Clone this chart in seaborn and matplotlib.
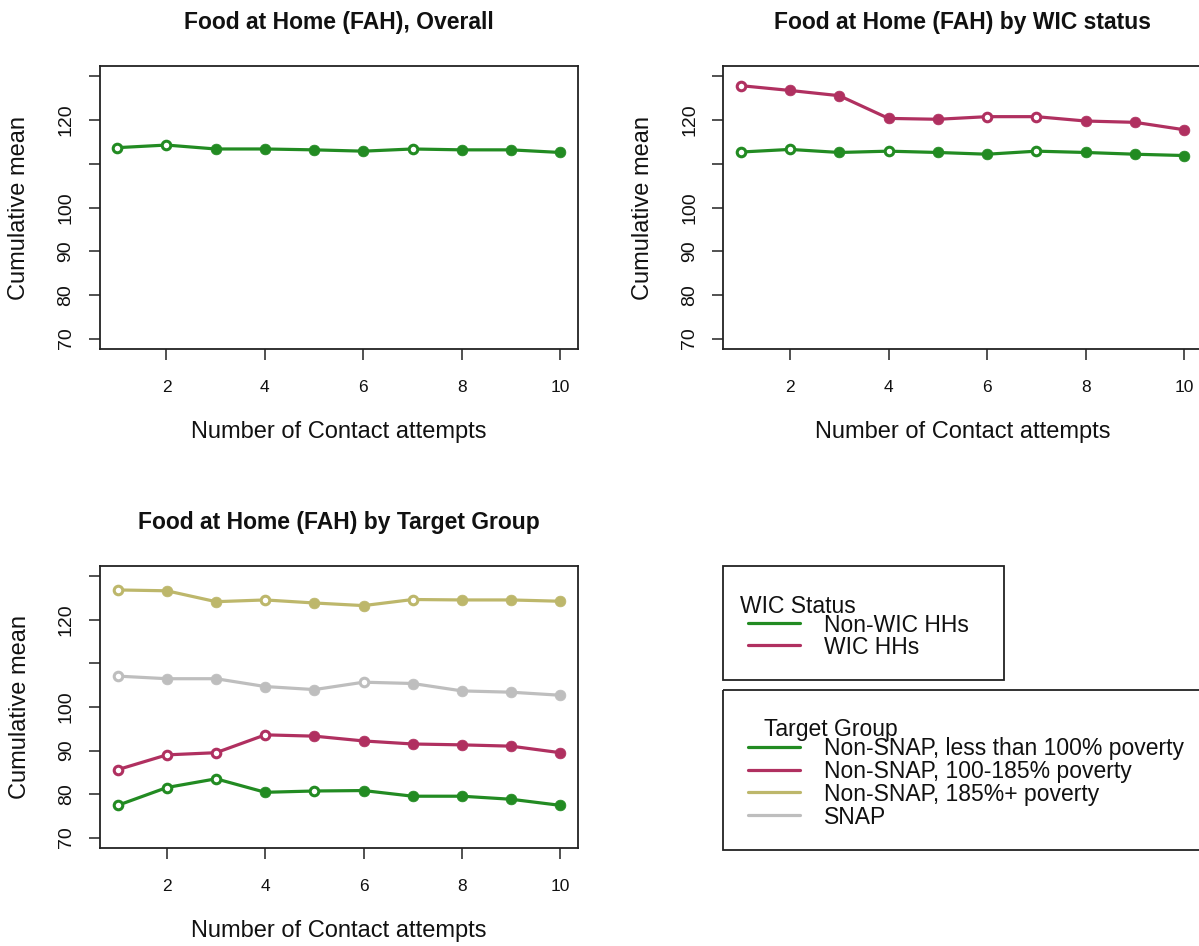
import numpy as np
import pandas as pd
import matplotlib
matplotlib.use("Agg")
import matplotlib.pyplot as plt
from matplotlib.patches import Rectangle
import seaborn as sns

sns.set_theme(style="white")
plt.rcParams['font.family'] = ['Liberation Sans', 'DejaVu Sans']

# ---------------- data ----------------
attempts = [1, 2, 3, 4, 5, 6, 7, 8, 9, 10]

overall = [113.7, 114.3, 113.4, 113.4, 113.2, 112.9, 113.4, 113.2, 113.2, 112.6]
overall_open = [1, 1, 0, 0, 0, 0, 1, 0, 0, 0]

wic_labels = ["Non-WIC HHs", "WIC HHs"]
wic_non = [112.7, 113.3, 112.6, 112.9, 112.6, 112.2, 112.9, 112.6, 112.2, 111.9]
wic_non_open = [1, 1, 0, 1, 0, 0, 1, 0, 0, 0]
wic_yes = [127.9, 126.8, 125.6, 120.4, 120.2, 120.8, 120.8, 119.8, 119.5, 117.8]
wic_yes_open = [1, 0, 0, 0, 0, 1, 1, 0, 0, 0]

tg_labels = ["Non-SNAP, less than 100% poverty", "Non-SNAP, 100-185% poverty",
             "Non-SNAP, 185%+ poverty", "SNAP"]
tg_lt100 = [77.4, 81.5, 83.5, 80.4, 80.7, 80.8, 79.5, 79.5, 78.8, 77.4]
tg_lt100_open = [1, 1, 1, 0, 1, 0, 0, 0, 0, 0]
tg_100_185 = [85.6, 89.0, 89.5, 93.6, 93.3, 92.2, 91.5, 91.3, 91.0, 89.5]
tg_100_185_open = [1, 1, 1, 1, 0, 0, 0, 0, 0, 0]
tg_185p = [126.9, 126.7, 124.2, 124.6, 123.9, 123.3, 124.7, 124.6, 124.6, 124.3]
tg_185p_open = [1, 0, 0, 1, 0, 0, 1, 0, 0, 0]
tg_snap = [107.1, 106.5, 106.5, 104.7, 104.0, 105.7, 105.4, 103.7, 103.4, 102.7]
tg_snap_open = [1, 0, 0, 0, 0, 1, 0, 0, 0, 0]

titles = ["Food at Home (FAH), Overall", "Food at Home (FAH) by WIC status",
          "Food at Home (FAH) by Target Group"]
xlabel = "Number of Contact attempts"
ylabel = "Cumulative mean"
yticks = [70, 80, 90, 100, 110, 120, 130]
yticklabels = ["70", "80", "90", "100", "", "120", ""]
xticks = [2, 4, 6, 8, 10]

GREEN = "#228B22"
MAROON = "#B03060"
KHAKI = "#BDB76B"
GREY = "#BEBEBE"

# ---------------- figure ----------------
W, H = 1199, 946
fig = plt.figure(figsize=(W / 100, H / 100), dpi=100)


def rect(l, r, t, b):
    return [l / W, 1 - b / H, (r - l) / W, (b - t) / H]


def draw_series(ax, y, opn, color):
    df = pd.DataFrame({"x": attempts, "y": y, "open": opn})
    sns.lineplot(data=df, x="x", y="y", ax=ax, color=color, linewidth=2.3)
    filled = df[df["open"] == 0]
    hollow = df[df["open"] == 1]
    sns.scatterplot(data=filled, x="x", y="y", ax=ax, color=color, s=60,
                    edgecolor=color, linewidth=0.5, zorder=3)
    sns.scatterplot(data=hollow, x="x", y="y", ax=ax, facecolor="white", s=38,
                    edgecolor=color, linewidth=2.2, zorder=3)


def style_axes(ax, title, title_x=0.5):
    ax.set_xlim(0.64, 10.36)
    ax.set_ylim(67.6, 132.4)
    ax.set_xticks(xticks)
    ax.set_xticklabels([str(v) for v in xticks], fontsize=12.5)
    ax.set_yticks(yticks)
    ax.set_yticklabels(yticklabels, fontsize=14, rotation=90, va="center")
    ax.tick_params(axis="both", direction="out", length=8, width=1.1,
                   color="#222222", labelcolor="#111111",
                   bottom=True, left=True, top=False, right=False)
    ax.tick_params(axis="x", pad=14)
    ax.tick_params(axis="y", pad=10)
    for sp in ax.spines.values():
        sp.set_visible(True)
        sp.set_color("#222222")
        sp.set_linewidth(1.3)
    ax.set_xlabel(xlabel, fontsize=17, color="#111111")
    ax.set_ylabel(ylabel, fontsize=17, color="#111111")
    ax.xaxis.set_label_coords(0.5, -0.295)
    ax.xaxis.label.set_va("center")
    ax.yaxis.set_label_coords(-0.168, 0.5)
    ax.yaxis.label.set_va("center")
    ax.set_title(title, fontsize=16.5, fontweight="bold", pad=27, color="#111111",
                 x=title_x)
    ax.grid(False)


ax1 = fig.add_axes(rect(99.5, 578, 66, 349))
draw_series(ax1, overall, overall_open, GREEN)
style_axes(ax1, titles[0])

ax2 = fig.add_axes(rect(723, 1202, 66, 349))
draw_series(ax2, wic_non, wic_non_open, GREEN)
draw_series(ax2, wic_yes, wic_yes_open, MAROON)
style_axes(ax2, titles[1], title_x=(962 - 723) / 479)

ax3 = fig.add_axes(rect(100, 578, 566, 848))
draw_series(ax3, tg_185p, tg_185p_open, KHAKI)
draw_series(ax3, tg_snap, tg_snap_open, GREY)
draw_series(ax3, tg_100_185, tg_100_185_open, MAROON)
draw_series(ax3, tg_lt100, tg_lt100_open, GREEN)
style_axes(ax3, titles[2])

# ---------------- legends (pixel overlay) ----------------
ov = fig.add_axes([0, 0, 1, 1])
ov.set_xlim(0, W)
ov.set_ylim(H, 0)
ov.axis("off")

ov.add_patch(Rectangle((723, 566), 1004 - 723, 680 - 566, fill=False,
                       edgecolor="#222222", linewidth=1.3))
ov.text(740, 606, "WIC Status", fontsize=16.5, va="center", ha="left", color="#111111")
for i, (lab, col) in enumerate(zip(wic_labels, [GREEN, MAROON])):
    yy = 623 + 22.3 * i
    ov.plot([748, 800], [yy, yy], color=col, linewidth=2.3)
    ov.text(824, yy + 2, lab, fontsize=16.5, va="center", ha="left", color="#111111")

ov.add_patch(Rectangle((723, 690), 1215 - 723, 850 - 690, fill=False,
                       edgecolor="#222222", linewidth=1.3))
ov.text(764, 729, "Target Group", fontsize=16.5, va="center", ha="left", color="#111111")
for i, (lab, col) in enumerate(zip(tg_labels, [GREEN, MAROON, KHAKI, GREY])):
    yy = 746.7 + 22.8 * i
    ov.plot([748, 800], [yy, yy], color=col, linewidth=2.3)
    ov.text(824, yy + 2, lab, fontsize=16.5, va="center", ha="left", color="#111111")

fig.savefig("out.png", dpi=100)
